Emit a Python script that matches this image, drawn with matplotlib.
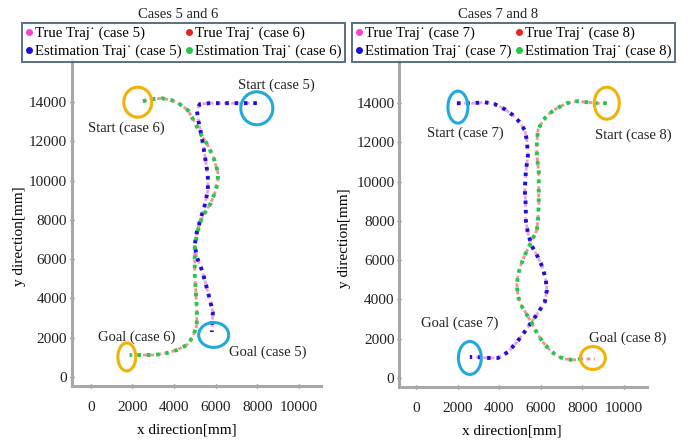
import matplotlib
matplotlib.use("Agg")
import matplotlib.pyplot as plt
from matplotlib.lines import Line2D
from matplotlib.patches import Ellipse

plt.rcParams.update({
    "font.family": ["Liberation Serif", "DejaVu Serif"],
    "font.size": 10.5,
})

# ---- data (mm) ----
# case 5 (left panel)
est5_x = [7970, 6670, 5710, 5230, 5090, 5180, 5330, 5470, 5620, 5620, 5470, 5280, 5090,
          4990, 5090, 5330, 5470, 5660, 5860, 5810]
est5_y = [13950, 13950, 13950, 13900, 13590, 12980, 12220, 11300, 10280, 9520, 8750, 8090,
          7380, 6720, 6110, 5450, 4940, 4170, 3310, 2290]
true5_x = est5_x
true5_y = est5_y

# case 6 (left panel)
est6_x = [2500, 2930, 3410, 3890, 4270, 4660, 4990, 5280, 5620, 5900, 6100, 6100, 5950,
          5760, 5470, 5230, 5090, 4990, 4990, 4990, 5040, 5090, 5090, 4900, 4610, 4130,
          3650, 3070, 2500, 1870]
est6_y = [14050, 14150, 14200, 14100, 13900, 13590, 12980, 12370, 11810, 11150, 10430,
          9930, 9370, 8860, 8350, 7840, 7230, 6620, 5960, 5190, 4430, 3410, 2650, 2040,
          1630, 1370, 1220, 1120, 1120, 1120]
true6_x = est6_x
true6_y = est6_y

# case 7 (right panel)
est7_x = [1970, 2740, 3310, 3790, 4270, 4660, 4990, 5230, 5330, 5380, 5280, 5230, 5280,
          5280, 5380, 5570, 5860, 6100, 6240, 6290, 6190, 5860, 5520, 5180, 4850, 4420,
          3940, 3410, 2930, 2590]
est7_y = [14000, 14000, 14050, 13950, 13690, 13390, 13030, 12620, 12110, 11350, 10490,
          9570, 8700, 8040, 7380, 6720, 6160, 5600, 4990, 4480, 3870, 3310, 2800, 2290,
          1830, 1320, 1020, 1020, 1070, 1070]
true7_x = est7_x
true7_y = est7_y

# case 8 (right panel)
est8_x = [9170, 8690, 8210, 7730, 7250, 6770, 6430, 6100, 5860, 5810, 5810, 5900, 5900,
          5900, 5860, 5810, 5620, 5420, 5230, 5040, 4900, 4850, 4900, 4990, 5280, 5570,
          5810, 6100, 6430, 6770, 7150, 7540, 7870, 8210]
est8_y = [14000, 14000, 14050, 14100, 14000, 13740, 13490, 13130, 12620, 12010, 11350,
          10490, 9570, 8810, 8040, 7530, 7120, 6670, 6260, 5750, 5240, 4730, 4220, 3820,
          3310, 2800, 2290, 1830, 1430, 1120, 970, 920, 970, 970]
true8_x = est8_x + [8590]
true8_y = est8_y + [970]

# start / goal markers: (x, y, width, height)
circles_left = [(2256, 14000, 1340, 1530, "#F2B203"), (7970, 13690, 1540, 1680, "#22A9DC"),
                (1730, 1020, 860, 1425, "#F2B203"), (5900, 2140, 1440, 1270, "#22A9DC")]
circles_right = [(2016, 13800, 960, 1630, "#22A9DC"), (9170, 14000, 1200, 1630, "#F2B203"),
                 (2590, 1020, 1100, 1680, "#22A9DC"), (8500, 1020, 1200, 1170, "#F2B203")]

notes_left = [("Start (case 5)", 8930, 14860), ("Start (case 6)", 1730, 12670),
              ("Goal (case 6)", 2210, 2040), ("Goal (case 5)", 8500, 1270)]
notes_right = [("Start (case 7)", 2350, 12470), ("Start (case 8)", 10420, 12370),
               ("Goal (case 7)", 2110, 2800), ("Goal (case 8)", 10180, 2040)]

xticks = [0, 2000, 4000, 6000, 8000, 10000]
yticks = [0, 2000, 4000, 6000, 8000, 10000, 12000, 14000]

C_MAG = "#FF40D0"
C_RED = "#EE2020"
C_BLUE = "#1C10D8"
C_GREEN = "#22C84A"
C_TRUE_MAG = "#F49AEA"
C_TRUE_RED = "#F09090"

fig = plt.figure(figsize=(6.89, 4.41), dpi=100)
ax1 = fig.add_axes([0.1045, 0.1247, 0.3614, 0.7415])
ax2 = fig.add_axes([0.5795, 0.1224, 0.3595, 0.7415])


def draw_traj(ax, tx, ty, ex, ey, tcol, ecol):
    ax.plot(tx, ty, color=tcol, lw=2.0, linestyle=(0, (1.4, 1.2)), zorder=2)
    ax.plot(ex, ey, color=ecol, lw=2.8, linestyle=(0, (0.9, 1.5)), zorder=3)


draw_traj(ax1, true5_x, true5_y, est5_x, est5_y, C_TRUE_MAG, C_BLUE)
draw_traj(ax1, true6_x, true6_y, est6_x, est6_y, C_TRUE_RED, C_GREEN)
draw_traj(ax2, true7_x, true7_y, est7_x, est7_y, C_TRUE_MAG, C_BLUE)
draw_traj(ax2, true8_x, true8_y, est8_x, est8_y, C_TRUE_RED, C_GREEN)

for ax, circles, notes, xl in [(ax1, circles_left, notes_left, (-900, 11050)),
                               (ax2, circles_right, notes_right, (-800, 11100))]:
    for cx, cy, w, h, col in circles:
        ax.add_patch(Ellipse((cx, cy), w, h, fill=False, edgecolor=col, lw=2.2, zorder=4))
    for txt, tx, ty in notes:
        ax.text(tx, ty, txt, ha="center", va="center", fontsize=10.5, color="#222222")
    ax.set_xlim(*xl)
    ax.set_ylim(-460, 16200)
    ax.set_xticks(xticks)
    ax.set_yticks(yticks)
    ax.tick_params(labelsize=11, direction="inout", length=3, width=1, color="#606060",
                   labelcolor="#222222")
    ax.tick_params(axis="x", pad=9)
    ax.tick_params(axis="y", pad=2)
    for s in ["top", "right"]:
        ax.spines[s].set_visible(False)
    for s in ["left", "bottom"]:
        ax.spines[s].set_color("#A8A8A8")
        ax.spines[s].set_linewidth(2.2)
    ax.set_xlabel("x direction[mm]", fontsize=11)
    ax.set_ylabel("y direction[mm]", fontsize=11)

ax1.xaxis.set_label_coords(0.462, -0.115)
ax2.xaxis.set_label_coords(0.456, -0.115)
ax1.yaxis.set_label_coords(-0.185, 0.459)
ax2.yaxis.set_label_coords(-0.195, 0.456)


def legend_handles(a, b):
    return [
        Line2D([0], [0], lw=0, marker="o", ms=4, color=C_MAG, label=f"True Traj\u02d9 (case {a})"),
        Line2D([0], [0], lw=0, marker="o", ms=4, color=C_BLUE, label=f"Estimation Traj\u02d9 (case {a})"),
        Line2D([0], [0], lw=0, marker="o", ms=4, color=C_RED, label=f"True Traj\u02d9 (case {b})"),
        Line2D([0], [0], lw=0, marker="o", ms=4, color=C_GREEN, label=f"Estimation Traj\u02d9 (case {b})"),
    ]


for (a, b), x0, xc in [((5, 6), 22, 178), ((7, 8), 352, 498)]:
    leg = fig.legend(handles=legend_handles(a, b), ncol=2, loc="upper left",
                     bbox_to_anchor=(x0 / 689, 1 - 23 / 441), borderaxespad=0,
                     fontsize=10.6, frameon=True, fancybox=False, handlelength=0.5,
                     handletextpad=0.15, columnspacing=0.25, borderpad=0.25,
                     labelspacing=0.3)
    leg.get_frame().set_edgecolor("#2E4A6B")
    leg.get_frame().set_linewidth(1.4)
    fig.text(xc / 689, 1 - 15 / 441, f"Cases {a} and {b}", ha="center", va="center",
             fontsize=10.5, color="#222222")

fig.savefig("out.png", dpi=100)
